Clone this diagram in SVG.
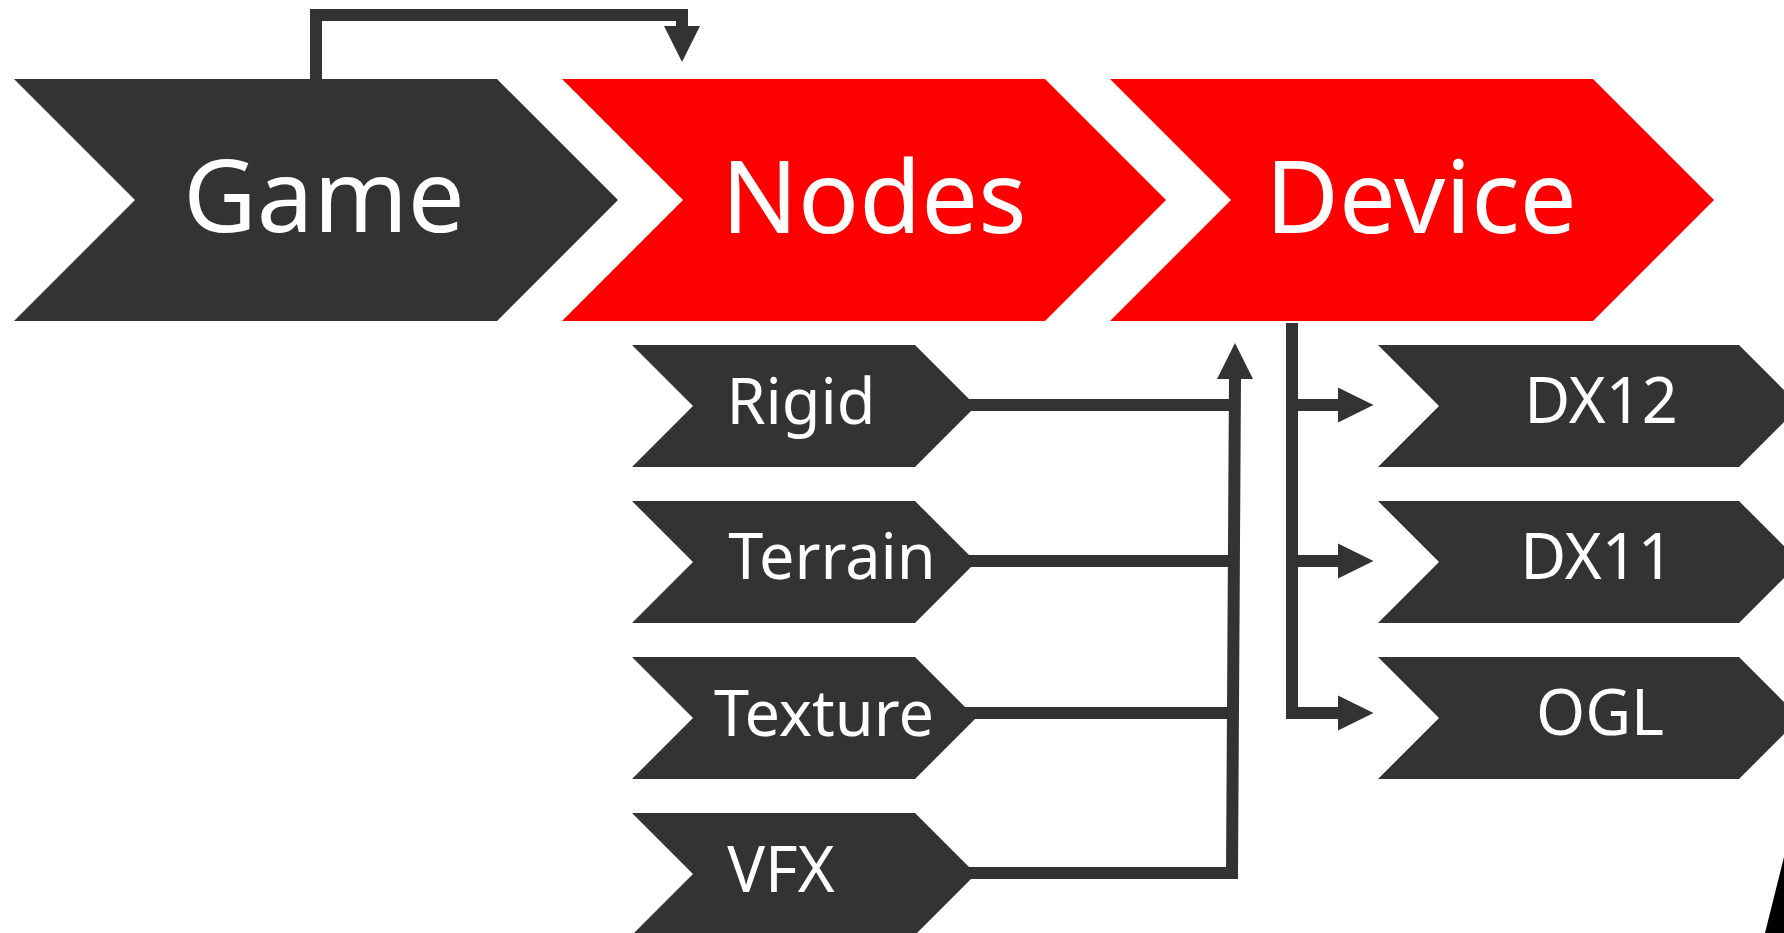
<svg xmlns="http://www.w3.org/2000/svg" width="1784" height="933" viewBox="0 0 1784 933">
  <style>
    .dark { fill: #333333; }
    .red { fill: #ff0000; }
    .big { font-family: "Noto Sans", "Open Sans", sans-serif; font-size: 101px; fill: #ffffff; text-anchor: middle; }
    .small { font-family: "Noto Sans", "Open Sans", sans-serif; font-size: 63px; fill: #ffffff; text-anchor: middle; }
    .wire { fill: none; stroke: #333333; stroke-width: 12; stroke-linejoin: miter; }
    .head { fill: #333333; }
  </style>
  <defs>
    <!-- 45° chevrons: large pipeline stage and smaller item -->
    <polygon id="stage" points="0,0 483,0 604,121 483,242 0,242 121,121"/>
    <polygon id="item" points="0,0 283,0 344,61 283,122 0,122 61,61"/>
    <polygon id="itemWide" points="0,0 361,0 422,61 361,122 0,122 61,61"/>
  </defs>

  <!-- pipeline stages -->
  <g id="game">
    <use href="#stage" class="dark" x="14" y="79"/>
    <text class="big" x="324" y="232">Game</text>
  </g>
  <g id="nodes">
    <use href="#stage" class="red" x="562" y="79"/>
    <text class="big" x="874" y="233">Nodes</text>
  </g>
  <g id="device">
    <use href="#stage" class="red" x="1110" y="79"/>
    <text class="big" x="1421" y="233">Device</text>
  </g>

  <!-- node types -->
  <g id="rigid">
    <use href="#item" class="dark" x="632" y="345"/>
    <text class="small" x="801" y="424">Rigid</text>
  </g>
  <g id="terrain">
    <use href="#item" class="dark" x="632" y="501"/>
    <text class="small" x="832" y="579">Terrain</text>
  </g>
  <g id="texture">
    <use href="#item" class="dark" x="632" y="657"/>
    <text class="small" x="824" y="736">Texture</text>
  </g>
  <g id="vfx">
    <use href="#item" class="dark" x="632" y="813"/>
    <text class="small" x="781" y="892">VFX</text>
  </g>

  <!-- device back-ends -->
  <g id="dx12">
    <use href="#itemWide" class="dark" x="1378" y="345"/>
    <text class="small" x="1601" y="423">DX12</text>
  </g>
  <g id="dx11">
    <use href="#itemWide" class="dark" x="1378" y="501"/>
    <text class="small" x="1597" y="579">DX11</text>
  </g>
  <g id="ogl">
    <use href="#itemWide" class="dark" x="1378" y="657"/>
    <text class="small" x="1600" y="735">OGL</text>
  </g>

  <!-- connectors -->
  <g id="connectors">
    <!-- Game loops over into Nodes -->
    <path class="wire" d="M316,79 V15 H682 V27"/>
    <polygon class="head" points="664,26 700,26 682,62"/>

    <!-- node types feed up into Device -->
    <path class="wire" d="M966,405 H1234"/>
    <path class="wire" d="M966,561 H1233"/>
    <path class="wire" d="M964,713 H1232"/>
    <path class="wire" d="M966,873 H1232 L1235,378"/>
    <polygon class="head" points="1217,379 1253,379 1235,343"/>

    <!-- Device fans out to back-ends -->
    <path class="wire" d="M1292,323 V719"/>
    <path class="wire" d="M1292,405 H1339"/>
    <path class="wire" d="M1292,561 H1339"/>
    <path class="wire" d="M1292,713 H1339"/>
    <polygon class="head" points="1338,387.5 1373.5,405 1338,422.5"/>
    <polygon class="head" points="1338,543.5 1373.5,561 1338,578.5"/>
    <polygon class="head" points="1338,695.5 1373.5,713 1338,730.5"/>
  </g>

  <!-- dark corner shape at the lower right edge -->
  <polygon points="1784,857 1765,933 1784,933" fill="#000000"/>
</svg>
